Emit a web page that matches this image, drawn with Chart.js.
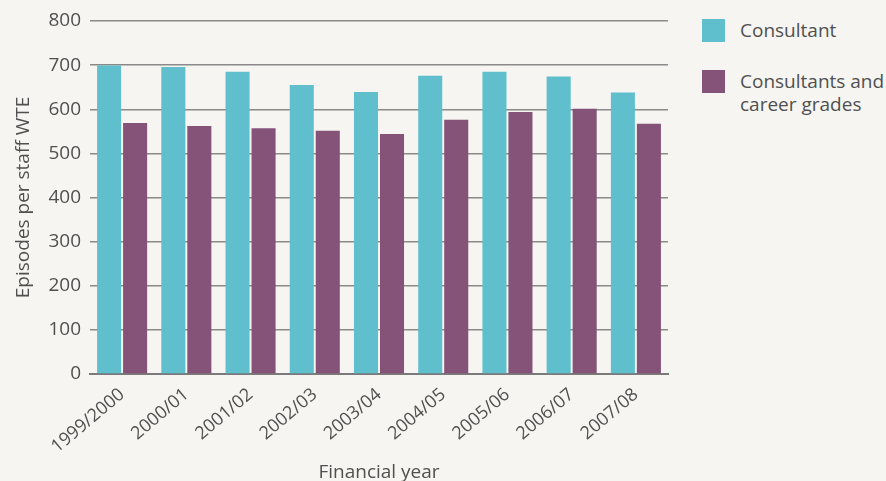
<!DOCTYPE html>
<html>
<head>
<meta charset="utf-8">
<script src="https://cdn.jsdelivr.net/npm/chart.js@4/dist/chart.umd.min.js"></script>
<style>
    html, body { margin: 0; padding: 0; background: #f6f5f1; }
    #wrap { position: relative; width: 886px; height: 481px; font-family: "Open Sans", sans-serif; }
    #chartBox { position: absolute; left: 0; top: 0; width: 670px; height: 481px; }
    #legend { position: absolute; left: 702px; top: 19px; color: #505050; font-size: 19px; line-height: 23px; }
    .item { display: flex; align-items: flex-start; margin-bottom: 28px; }
    .swatch { width: 23px; height: 23px; margin-right: 15px; flex: none; }
</style>
</head>
<body>
<div id="wrap">
    <div id="chartBox"><canvas id="chart"></canvas></div>
    <div id="legend"></div>
</div>
<script>
// Episodes per staff WTE by financial year
const years = ['1999/2000', '2000/01', '2001/02', '2002/03', '2003/04', '2004/05', '2005/06', '2006/07', '2007/08'];
const consultant = [699, 696, 685, 655, 639, 676, 685, 674, 638];
const careerGrades = [569, 562, 557, 551, 544, 576, 594, 601, 567];
const yTicks = [0, 100, 200, 300, 400, 500, 600, 700, 800];

const seriesNames = ['Consultant', ['Consultants and', 'career grades']];
const seriesColors = ['#5fbfcd', '#855278'];
const textColor = '#505050';

// legend drawn beside the canvas
const legend = document.getElementById('legend');
seriesNames.forEach((name, i) => {
    const item = document.createElement('div');
    item.className = 'item';
    const swatch = document.createElement('div');
    swatch.className = 'swatch';
    swatch.style.background = seriesColors[i];
    const label = document.createElement('div');
    label.innerHTML = [].concat(name).join('<br>');
    item.appendChild(swatch);
    item.appendChild(label);
    legend.appendChild(item);
});

const font = { family: '"Open Sans", sans-serif', size: 19 };
const tickFont = { family: '"Open Sans", sans-serif', size: 18 };

new Chart(document.getElementById('chart'), {
    type: 'bar',
    data: {
        labels: years,
        datasets: [
            { label: 'Consultant', data: consultant, backgroundColor: seriesColors[0] },
            { label: 'Consultants and career grades', data: careerGrades, backgroundColor: seriesColors[1] }
        ]
    },
    options: {
        responsive: true,
        maintainAspectRatio: false,
        animation: false,
        categoryPercentage: 0.81,
        barPercentage: 0.925,
        layout: { padding: { top: 21, right: 2, left: 0, bottom: 0 } },
        plugins: { legend: { display: false }, tooltip: { enabled: false } },
        scales: {
            x: {
                grid: { display: false },
                border: { color: '#7a7a7a', width: 2 },
                ticks: { color: textColor, font: tickFont, minRotation: 40, maxRotation: 40, padding: 2 },
                title: { display: true, text: 'Financial year', color: textColor, font: font, padding: { top: 0, bottom: -3 } },
                afterFit: (scale) => { scale.height = 107; }
            },
            y: {
                min: 0,
                max: 800,
                afterBuildTicks: (scale) => { scale.ticks = yTicks.map(v => ({ value: v })); },
                grid: { color: '#8a8a8a', lineWidth: 1.5, drawTicks: false },
                border: { display: false },
                ticks: { color: textColor, font: font, padding: 9 },
                title: { display: true, text: 'Episodes per staff WTE', color: textColor, font: font, padding: { top: 12, bottom: 0 } },
                afterFit: (scale) => { scale.width = 90; }
            }
        }
    }
});
</script>
</body>
</html>
